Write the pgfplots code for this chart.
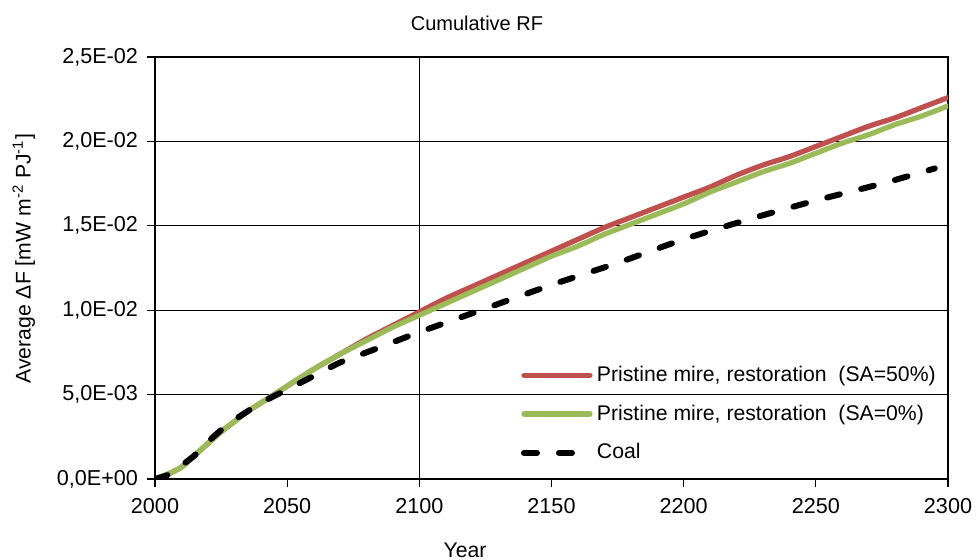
\documentclass[border=0pt]{standalone}
\usepackage{fontspec}
\setmainfont{Liberation Sans}
\usepackage{pgfplots}
\pgfplotsset{compat=1.18}
\definecolor{myred}{RGB}{192,80,77}
\definecolor{mygreen}{RGB}{155,187,89}
\begin{document}
\begin{tikzpicture}
\begin{axis}[
  scale only axis,
  width=396.5pt, height=211pt,
  xmin=2000, xmax=2300, ymin=0, ymax=0.025,
  scaled y ticks=false, scaled x ticks=false,
  axis line style={black, line width=0.6pt},
  xtick={2000,2050,2100,2150,2200,2250,2300},
  xticklabels={2000,2050,2100,2150,2200,2250,2300},
  ytick={0,0.005,0.01,0.015,0.02,0.025},
  yticklabels={{0,0E+00},{5,0E-03},{1,0E-02},{1,5E-02},{2,0E-02},{2,5E-02}},
  extra x ticks={2100},
  extra x tick labels={},
  extra x tick style={grid=major, major grid style={black, line width=0.6pt}},
  tick align=outside,
  xtick pos=bottom, ytick pos=left,
  major tick length=4pt,
  tick style={black, line width=0.6pt},
  ymajorgrids,
  major grid style={black, line width=0.6pt},
  ticklabel style={font=\fontsize{10.8}{12}\selectfont},
  xticklabel style={yshift=-2pt},
  yticklabel style={xshift=-1pt},
  title={Cumulative RF},
  title style={at={(axis description cs:0.406,1)}, anchor=base, yshift=7.5pt, font=\fontsize{10}{12}\selectfont},
  xlabel={Year},
  xlabel style={at={(axis description cs:0.391,0)}, anchor=base, yshift=-39pt, font=\fontsize{10.6}{12}\selectfont},
  ylabel={Average ΔF [mW m\textsuperscript{-2} PJ\textsuperscript{-1}]},
  ylabel style={at={(axis description cs:-0.1655,0.522)}, anchor=center, rotate=0, font=\fontsize{10.6}{12}\selectfont},
  legend cell align=left,
  legend style={at={(axis description cs:0.461,0.278)}, anchor=north west, draw=none, fill=none,
    font=\fontsize{10.6}{12}\selectfont, row sep=6.2pt, inner sep=0pt},
  legend image code/.code={\draw[#1] (0pt,0pt) -- (33pt,0pt);},
]
\addplot[myred, line width=2.6pt, line cap=round, line join=round, smooth, tension=0.4] coordinates {
(2000,0) (2005,0.0003) (2010,0.0007) (2015,0.0014) (2020,0.0021) (2025,0.0028)
(2030,0.0034) (2035,0.0040) (2040,0.0045) (2045,0.0050) (2050,0.0055)
(2060,0.0065) (2070,0.0074) (2080,0.0083) (2090,0.0091) (2100,0.0099)
(2110,0.0107) (2120,0.0114) (2130,0.0121) (2140,0.0128) (2150,0.0135)
(2160,0.0142) (2170,0.0149) (2180,0.0155) (2190,0.0161) (2200,0.0167)
(2210,0.0173) (2220,0.0180) (2230,0.0186) (2240,0.0191) (2250,0.0197)
(2260,0.0203) (2270,0.0209) (2280,0.0214) (2290,0.0220) (2300,0.0226)
};
\addlegendentry{Pristine mire, restoration\ \ (SA=50\%)}
\addplot[mygreen, line width=2.6pt, line cap=round, line join=round, smooth, tension=0.4] coordinates {
(2000,0) (2005,0.0003) (2010,0.0007) (2015,0.0014) (2020,0.0021) (2025,0.0028)
(2030,0.0034) (2035,0.0040) (2040,0.0045) (2045,0.0050) (2050,0.0055)
(2060,0.0065) (2070,0.0074) (2080,0.0082) (2090,0.0090) (2100,0.0097)
(2110,0.0104) (2120,0.0111) (2130,0.0118) (2140,0.0125) (2150,0.0132)
(2160,0.0138) (2170,0.0145) (2180,0.0151) (2190,0.0157) (2200,0.0163)
(2210,0.0170) (2220,0.0176) (2230,0.0182) (2240,0.0187) (2250,0.0193)
(2260,0.0199) (2270,0.0204) (2280,0.0210) (2290,0.0215) (2300,0.0221)
};
\addlegendentry{Pristine mire, restoration\ \ (SA=0\%)}
\addplot[black, line width=3pt, line cap=round, line join=round, dash pattern=on 6.5pt off 11pt, smooth, tension=0.4] coordinates {
(2000,0) (2005,0.00025) (2010,0.0008) (2015,0.0014) (2020,0.0022) (2025,0.0029)
(2030,0.0035) (2040,0.0045) (2050,0.0053)
(2060,0.0061) (2070,0.0069) (2080,0.0075) (2090,0.0081) (2100,0.0087)
(2125,0.0101) (2150,0.0115) (2175,0.0128) (2200,0.0142) (2225,0.0154)
(2250,0.0165) (2275,0.0175) (2295,0.0184)
};
\addlegendentry{Coal}
\end{axis}
\pgfresetboundingbox
\path (-77.5pt,-40pt) rectangle (411pt,239.5pt);
\end{tikzpicture}
\end{document}
